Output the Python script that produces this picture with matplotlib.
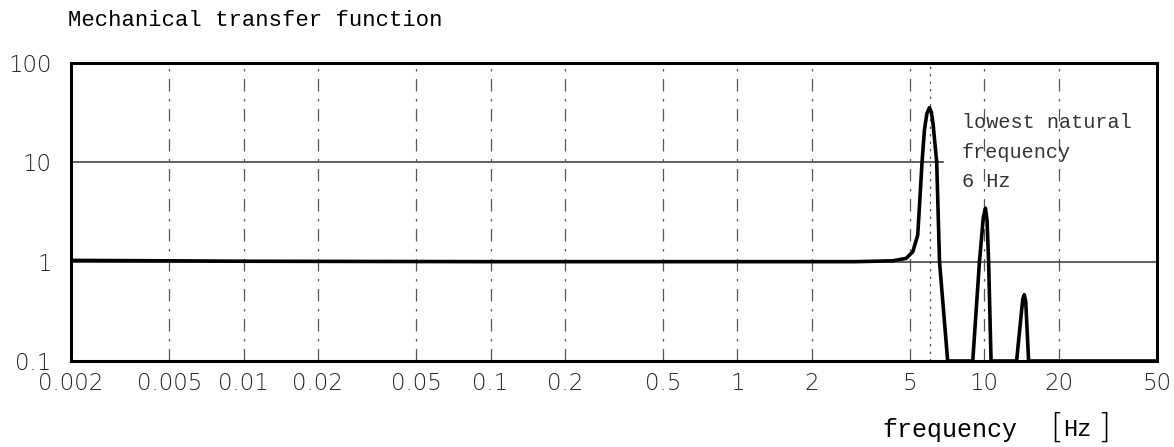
import matplotlib
matplotlib.use("Agg")
import matplotlib.pyplot as plt

# ---- data ----
freq_hz = [0.002, 0.005, 0.01, 0.1, 1.0, 3.0, 4.26, 4.82, 5.13, 5.37, 5.49, 5.59,
           5.72, 5.85, 5.99, 6.10, 6.20, 6.41, 6.58, 7.10, 8.97, 9.55, 9.90, 10.1,
           10.25, 10.4, 10.64, 13.5, 14.3, 14.5, 14.7, 15.1, 50.0]
magnitude = [1.03, 1.02, 1.01, 1.0, 1.0, 1.0, 1.02, 1.08, 1.26, 1.85, 4.64, 10.0,
             21.5, 31.0, 35.5, 32.0, 24.0, 10.0, 1.0, 0.1, 0.1, 1.0, 2.8, 3.45,
             2.6, 1.0, 0.1, 0.1, 0.42, 0.465, 0.40, 0.1, 0.1]

x_ticks = [0.002, 0.005, 0.01, 0.02, 0.05, 0.1, 0.2, 0.5, 1, 2, 5, 10, 20, 50]
x_tick_labels = ["0.002", "0.005", "0.01", "0.02", "0.05", "0.1", "0.2", "0.5",
                 "1", "2", "5", "10", "20", "50"]
y_ticks = [0.1, 1, 10, 100]
y_tick_labels = ["0.1", "1", "10", "100"]
natural_freq = [6.0]

title = "Mechanical transfer function"
annotation = "lowest natural\nfrequency\n6 Hz"
xlabel_text = "frequency"
xlabel_unit = "Hz"

# ---- figure ----
W, H = 1174, 447
fig = plt.figure(figsize=(W / 100, H / 100), dpi=100)
ax = fig.add_axes([71 / W, (H - 361) / H, (1157 - 71) / W, (361 - 63) / H])
ax.set_xscale("log")
ax.set_yscale("log")
ax.set_xlim(x_ticks[0], x_ticks[-1])
ax.set_ylim(y_ticks[0], y_ticks[-1])

# grid: vertical dash-dot lines at x ticks, horizontal solid at inner decades
for xv in x_ticks[1:-1]:
    ax.axvline(xv, color="#555555", lw=0.9, ls=(0, (10, 6, 2, 6)), zorder=1)
for xv in natural_freq:
    ax.axvline(xv, color="#555555", lw=0.9, ls=(0, (2, 4)), zorder=1)
ax.axhline(y_ticks[2], xmax=0.803, color="#444444", lw=1.2, zorder=1)
ax.axhline(y_ticks[1], color="#444444", lw=1.2, zorder=1)

ax.plot(freq_hz, magnitude, color="black", lw=2.6, solid_joinstyle="round",
        solid_capstyle="round", zorder=3)

ax.set_xticks(x_ticks)
ax.set_xticklabels(x_tick_labels)
ax.set_yticks(y_ticks)
ax.set_yticklabels(y_tick_labels)
ax.minorticks_off()
ax.tick_params(axis="both", length=0, labelsize=16.5, colors="#222222")
ax.tick_params(axis="x", pad=8)
ax.tick_params(axis="y", pad=14)
for lab in ax.get_xticklabels() + ax.get_yticklabels():
    lab.set_fontfamily("DejaVu Sans")
    lab.set_fontweight("light")

for sp in ax.spines.values():
    sp.set_linewidth(2.2)
    sp.set_color("black")

ax.text(0.820, 0.832, annotation, transform=ax.transAxes, ha="left", va="top",
        family="Liberation Mono", fontsize=14.5, color="#333333", linespacing=1.7)

fig.text(68 / W, 1 - 21 / H, title, ha="left", va="center",
         family="Liberation Mono", fontsize=16, color="black")
fig.text(882 / W, 1 - 430 / H, xlabel_text, ha="left", va="center",
         family="Liberation Mono", fontsize=18, color="black")
fig.text(1050 / W, 1 - 428 / H, "[", ha="left", va="center",
         family="DejaVu Sans", fontsize=24, fontweight="light", color="black")
fig.text(1063 / W, 1 - 430 / H, xlabel_unit, ha="left", va="center",
         family="Liberation Mono", fontsize=17, color="black")
fig.text(1097 / W, 1 - 428 / H, "]", ha="left", va="center",
         family="DejaVu Sans", fontsize=24, fontweight="light", color="black")

fig.savefig("out.png", dpi=100, facecolor="white")
